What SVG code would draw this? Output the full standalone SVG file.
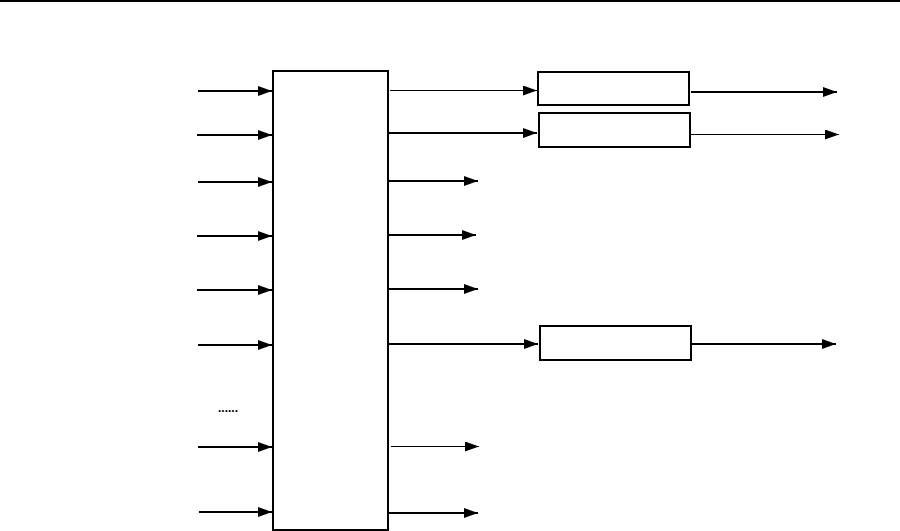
<svg xmlns="http://www.w3.org/2000/svg" width="900" height="531" viewBox="0 0 900 531">
<style>
.box{fill:#fff;stroke:#000;stroke-width:2}
.thick{stroke:#000;stroke-width:2.2;fill:none}
.thin{stroke:#000;stroke-width:1.2;fill:none}
.dots{font-family:"Liberation Sans",Arial,sans-serif;font-size:12px;font-weight:bold;fill:#000}
</style>
<defs>
<marker id="ah" markerUnits="userSpaceOnUse" markerWidth="14" markerHeight="10" refX="14" refY="5" orient="auto">
<path d="M0,0 L14,5 L0,10 z" fill="#000"/>
</marker>
</defs>
<rect x="0" y="0" width="900" height="531" fill="#fff"/>
<line x1="0" y1="1" x2="900" y2="1" stroke="#000" stroke-width="2"/>
<g id="main">
<rect class="box" x="273" y="71" width="115" height="459"/>
</g>
<g id="box1"><rect class="box" x="538" y="72" width="151" height="33"/></g>
<g id="box2"><rect class="box" x="539" y="113" width="151" height="34"/></g>
<g id="box3"><rect class="box" x="540" y="326" width="151" height="34"/></g>
<g id="dots"><text class="dots" x="218" y="412">......</text></g>
<g id="connectors">
<line class="thick" x1="198" y1="91" x2="272" y2="91" marker-end="url(#ah)"/>
<line class="thick" x1="197" y1="135" x2="272" y2="135" marker-end="url(#ah)"/>
<line class="thick" x1="198" y1="182" x2="272" y2="182" marker-end="url(#ah)"/>
<line class="thick" x1="197" y1="236" x2="272" y2="236" marker-end="url(#ah)"/>
<line class="thick" x1="197" y1="290" x2="272" y2="290" marker-end="url(#ah)"/>
<line class="thick" x1="198" y1="345" x2="272" y2="345" marker-end="url(#ah)"/>
<line class="thick" x1="198" y1="447" x2="272" y2="447" marker-end="url(#ah)"/>
<line class="thick" x1="199" y1="512" x2="272" y2="512" marker-end="url(#ah)"/>
<line class="thin" x1="390" y1="90.5" x2="537" y2="90.5" marker-end="url(#ah)"/>
<line class="thick" x1="389" y1="133" x2="537" y2="133" marker-end="url(#ah)"/>
<line class="thick" x1="389" y1="181" x2="478" y2="181" marker-end="url(#ah)"/>
<line class="thick" x1="389" y1="235" x2="476" y2="235" marker-end="url(#ah)"/>
<line class="thick" x1="389" y1="289" x2="478" y2="289" marker-end="url(#ah)"/>
<line class="thick" x1="389" y1="344" x2="538" y2="344" marker-end="url(#ah)"/>
<line class="thin" x1="391" y1="446.5" x2="479" y2="446.5" marker-end="url(#ah)"/>
<line class="thick" x1="389" y1="513" x2="478" y2="513" marker-end="url(#ah)"/>
<line class="thick" x1="691" y1="92" x2="837" y2="92" marker-end="url(#ah)"/>
<line class="thin" x1="691" y1="134.5" x2="839" y2="134.5" marker-end="url(#ah)"/>
<line class="thick" x1="692" y1="344" x2="836" y2="344" marker-end="url(#ah)"/>
</g>
</svg>
